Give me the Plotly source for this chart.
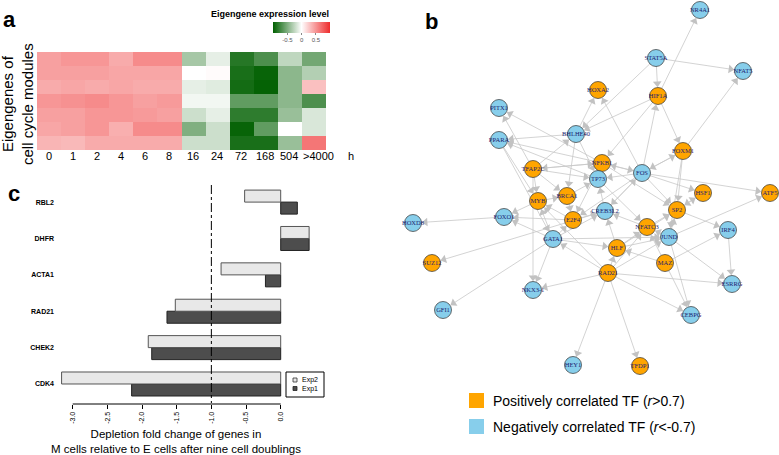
import math
import plotly.graph_objects as go

W, H = 779, 455


def fx(p):
    return p / W


def fy(p):
    return 1 - p / H


# ---------------- Panel a: eigengene heatmap ----------------
time_labels = ["0", "1", "2", "4", "6", "8", "16", "24", "72", "168", "504", ">4000"]
module_ids = ["M1", "M2", "M3", "M4", "M5", "M6", "M7"]
eigengene = [
    [0.45, 0.50, 0.50, 0.40, 0.55, 0.55, -0.35, -0.10, -0.85, -0.70, -0.25, -0.55],
    [0.45, 0.45, 0.45, 0.42, 0.42, 0.42, 0.00, 0.02, -0.90, -0.97, -0.45, -0.30],
    [0.40, 0.42, 0.40, 0.42, 0.40, 0.40, -0.10, -0.12, -0.92, -0.98, -0.45, 0.30],
    [0.50, 0.52, 0.55, 0.50, 0.45, 0.48, -0.05, -0.05, -0.62, -0.62, -0.45, -0.70],
    [0.45, 0.45, 0.50, 0.50, 0.48, 0.45, -0.20, -0.10, -0.82, -0.82, -0.40, -0.15],
    [0.42, 0.45, 0.50, 0.38, 0.55, 0.55, -0.50, -0.20, -0.97, -0.62, 0.00, -0.15],
    [0.35, 0.33, 0.40, 0.40, 0.40, 0.40, -0.20, -0.20, -0.90, -0.90, -0.40, 0.65],
]
cbar_ticks = [-0.5, 0, 0.5]

# ---------------- Panel c: depletion bars ----------------
genes = ["CDK4", "CHEK2", "RAD21", "ACTA1", "DHFR", "RBL2"]
exp1 = [-2.15, -1.86, -1.64, -0.22, 0.41, 0.24]
exp2 = [-3.16, -1.91, -1.52, -0.86, 0.41, -0.52]
fold_ticks = [-3.0, -2.5, -2.0, -1.5, -1.0, -0.5, 0.0]
threshold = -1.0

# ---------------- Panel b: TF network ----------------
tf_names = ["NR4A1", "STAT5A", "NFAT5", "HOXA2", "HIF1A", "PITX1", "PPARA", "BHLHE40",
            "FOXM1", "NFKB1", "TFAP2C", "FOS", "TP73", "MYB", "BRCA1", "HSF1", "ATF5",
            "SP2", "CREB3L2", "FOXO1", "HOXD8", "E2F4", "NFATC3", "JUND", "IRF4", "GATA1",
            "HLF", "MAZ", "SUZ12", "RAD21", "NKX3-1", "ESRRG", "GFI1", "CEBPG", "HEY1", "TFDP1"]
tf_x = [700, 656, 743, 598, 658, 499, 499, 576, 683, 602, 533, 642, 598, 538, 567, 703, 770,
        677, 605, 504, 413, 573, 647, 669, 728, 553, 617, 665, 432, 608, 533, 732, 443, 691, 573, 640]
tf_y = [10, 58, 71, 90, 96, 108, 140, 134, 151, 163, 169, 173, 179, 201, 196, 193, 193,
        210, 211, 217, 223, 220, 227, 237, 230, 239, 248, 263, 263, 273, 290, 284, 310, 315, 365, 366]
tf_positive = ["HOXA2", "HIF1A", "FOXM1", "NFKB1", "TFAP2C", "MYB", "BRCA1", "HSF1", "ATF5",
               "SP2", "E2F4", "NFATC3", "HLF", "MAZ", "SUZ12", "RAD21", "TFDP1"]
edges = [
    ("HIF1A", "NR4A1"), ("STAT5A", "NFAT5"), ("STAT5A", "HIF1A"), ("STAT5A", "BHLHE40"),
    ("FOXM1", "NFAT5"), ("HIF1A", "FOXM1"), ("HIF1A", "BHLHE40"), ("HIF1A", "NFKB1"),
    ("BHLHE40", "HOXA2"), ("FOS", "HOXA2"), ("FOS", "HIF1A"), ("NFKB1", "PITX1"),
    ("TFAP2C", "PITX1"), ("BHLHE40", "PPARA"), ("NFKB1", "PPARA"), ("TP73", "PPARA"),
    ("PPARA", "MYB"), ("TFAP2C", "BHLHE40"), ("TFAP2C", "NFKB1"), ("BHLHE40", "TP73"),
    ("BHLHE40", "BRCA1"), ("FOS", "NFKB1"), ("NFKB1", "FOS"), ("FOS", "FOXM1"),
    ("FOXM1", "FOS"), ("FOS", "HSF1"), ("FOS", "ATF5"), ("FOS", "SP2"), ("FOS", "CREB3L2"),
    ("FOS", "TP73"), ("FOS", "E2F4"), ("FOXM1", "SP2"), ("FOXM1", "JUND"), ("SP2", "HSF1"),
    ("JUND", "SP2"), ("NFATC3", "SP2"), ("SP2", "IRF4"), ("IRF4", "ESRRG"), ("MAZ", "IRF4"),
    ("RAD21", "ESRRG"), ("RAD21", "CEBPG"), ("RAD21", "NKX3-1"), ("RAD21", "HEY1"),
    ("RAD21", "TFDP1"), ("RAD21", "HLF"), ("GATA1", "GFI1"), ("CREB3L2", "SUZ12"),
    ("FOXO1", "HOXD8"), ("GATA1", "FOXO1"), ("E2F4", "FOXO1"), ("MYB", "FOXO1"),
    ("GATA1", "NKX3-1"), ("MAZ", "CEBPG"), ("JUND", "ESRRG"), ("HLF", "JUND"),
    ("HLF", "NFATC3"), ("MAZ", "HLF"), ("TFAP2C", "MYB"), ("TFAP2C", "BRCA1"),
    ("TFAP2C", "TP73"), ("MYB", "BRCA1"), ("BRCA1", "TP73"), ("BRCA1", "E2F4"),
    ("E2F4", "CREB3L2"), ("CREB3L2", "TP73"), ("GATA1", "MYB"), ("GATA1", "E2F4"),
    ("GATA1", "CREB3L2"), ("GATA1", "HLF"), ("GATA1", "JUND"), ("E2F4", "MYB"),
    ("HLF", "CREB3L2"), ("NFATC3", "CREB3L2"), ("JUND", "NFATC3"), ("MAZ", "NFATC3"),
    ("RAD21", "GATA1"), ("RAD21", "MYB"), ("RAD21", "NFATC3"), ("RAD21", "JUND"),
    ("JUND", "ATF5"), ("TP73", "NFATC3"), ("NFKB1", "SP2"), ("NFKB1", "E2F4"),
    ("JUND", "CEBPG"), ("TFAP2C", "NKX3-1"), ("PPARA", "GATA1"), ("HSF1", "SP2"),
    ("NFKB1", "TFAP2C"), ("TP73", "NFKB1"), ("CREB3L2", "FOS"), ("HLF", "SP2"),
]

fig = go.Figure()

# ---- heatmap
fig.add_trace(go.Heatmap(
    z=eigengene, x=time_labels, y=module_ids,
    colorscale=[[0, "#005f00"], [0.5, "#ffffff"], [1, "#ee2c2c"]],
    zmin=-1, zmax=1, hoverinfo="skip",
    xaxis="x", yaxis="y",
    colorbar=dict(orientation="h", x=fx(301.7), xanchor="center", y=fy(22), yanchor="top",
                  len=57, lenmode="pixels", thickness=11, thicknessmode="pixels",
                  outlinewidth=0, tickvals=cbar_ticks, ticktext=["-0.5", "0", "0.5"],
                  ticks="outside", ticklen=2, tickcolor="#888",
                  tickfont=dict(size=6, color="#555"), xpad=0, ypad=0),
))

# ---- bars
ypos = list(range(len(genes)))
fig.add_trace(go.Bar(y=ypos, x=exp1, orientation="h", offset=-0.33, width=0.33,
                     marker=dict(color="#4d4d4d", line=dict(color="#222222", width=1)),
                     xaxis="x3", yaxis="y3", name="Exp1", showlegend=False, hoverinfo="skip"))
fig.add_trace(go.Bar(y=ypos, x=exp2, orientation="h", offset=0, width=0.33,
                     marker=dict(color="#e8e8e8", line=dict(color="#555555", width=1)),
                     xaxis="x3", yaxis="y3", name="Exp2", showlegend=False, hoverinfo="skip"))

# ---- network
pos = {n: (x, y) for n, x, y in zip(tf_names, tf_x, tf_y)}
R = 8.8
AS = 7.5
ex, ey, hx, hy, hang = [], [], [], [], []
for s, t in edges:
    x0, y0 = pos[s]
    x1, y1 = pos[t]
    dx, dy = x1 - x0, y1 - y0
    L = math.hypot(dx, dy)
    ux, uy = dx / L, dy / L
    tipx, tipy = x1 - ux * R, y1 - uy * R
    cx, cy = tipx - ux * AS / 2, tipy - uy * AS / 2
    ex += [x0, cx, None]
    ey += [y0, cy, None]
    hx.append(cx)
    hy.append(cy)
    hang.append(math.degrees(math.atan2(ux, -uy)))

fig.add_trace(go.Scatter(x=ex, y=ey, mode="lines", line=dict(color="#c8c8c8", width=0.8),
                         xaxis="x2", yaxis="y2", showlegend=False, hoverinfo="skip"))
fig.add_trace(go.Scatter(x=hx, y=hy, mode="markers",
                         marker=dict(symbol="triangle-up", size=AS, angle=hang, color="#c2c2c2",
                                     line=dict(width=0)),
                         xaxis="x2", yaxis="y2", showlegend=False, hoverinfo="skip"))
node_colors = ["#FFA500" if n in tf_positive else "#87CEEB" for n in tf_names]
fig.add_trace(go.Scatter(x=tf_x, y=tf_y, mode="markers+text", text=tf_names,
                         textposition="middle center",
                         textfont=dict(family="Liberation Serif", size=6.5, color="#1c1c70"),
                         marker=dict(size=17, color=node_colors, line=dict(color="#333333", width=0.7)),
                         xaxis="x2", yaxis="y2", showlegend=False, hoverinfo="skip"))

hidden = dict(visible=False, showgrid=False, zeroline=False)

fig.update_layout(
    width=W, height=H, margin=dict(l=0, r=0, t=0, b=0),
    paper_bgcolor="white", plot_bgcolor="white",
    font=dict(family="Liberation Sans", color="black"),
    barmode="overlay",
    xaxis=dict(domain=[fx(37), fx(336)], anchor="y", type="category",
               categoryorder="array", categoryarray=time_labels,
               ticks="", showgrid=False, showticklabels=False, showline=False, zeroline=False),
    yaxis=dict(domain=[fy(150), fy(52)], anchor="x", type="category", autorange="reversed",
               showticklabels=False, ticks="", showgrid=False, zeroline=False),
    xaxis2=dict(domain=[fx(380), 1], anchor="y2", range=[380, 779], **hidden),
    yaxis2=dict(domain=[0, 1], anchor="x2", range=[455, 0], **hidden),
    xaxis3=dict(domain=[fx(55), fx(330)], anchor="y3", range=[-3.255, 0.711],
                tickvals=fold_ticks, ticktext=[f"{v:.1f}" for v in fold_ticks],
                tickangle=-90, ticks="outside", ticklen=4, tickcolor="black",
                tickfont=dict(size=7), showgrid=False, zeroline=False, showline=False),
    yaxis3=dict(domain=[fy(404), fy(185)], anchor="x3", range=[-0.55, 5.47],
                tickvals=ypos, ticktext=genes, ticks="",
                tickfont=dict(size=7, weight="bold"),
                showgrid=False, zeroline=False, showline=False),
)

shapes = [
    dict(type="line", xref="x3", yref="paper", x0=fold_ticks[0], x1=fold_ticks[-1],
         y0=fy(404), y1=fy(404), line=dict(color="black", width=1)),
    dict(type="line", xref="x3", yref="paper", x0=threshold, x1=threshold,
         y0=fy(185), y1=fy(403), line=dict(color="black", width=1, dash="dashdot")),
    dict(type="rect", xref="paper", yref="paper", x0=fx(286), x1=fx(324), y0=fy(397), y1=fy(372),
         line=dict(color="black", width=1), fillcolor="white"),
    dict(type="rect", xref="paper", yref="paper", x0=fx(293), x1=fx(297), y0=fy(382), y1=fy(378),
         line=dict(color="#333", width=0.8), fillcolor="#e8e8e8"),
    dict(type="rect", xref="paper", yref="paper", x0=fx(293), x1=fx(297), y0=fy(390.5), y1=fy(386.5),
         line=dict(color="#222", width=0.8), fillcolor="#4d4d4d"),
    dict(type="rect", xref="paper", yref="paper", x0=fx(469), x1=fx(484), y0=fy(408), y1=fy(393),
         line=dict(width=0), fillcolor="#FFA500"),
    dict(type="rect", xref="paper", yref="paper", x0=fx(469), x1=fx(484), y0=fy(434), y1=fy(419),
         line=dict(width=0), fillcolor="#87CEEB"),
]

ann = [
    dict(text="<b>a</b>", x=fx(1), y=fy(20), xanchor="left", yanchor="middle", font=dict(size=22)),
    dict(text="<b>b</b>", x=fx(423), y=fy(21), xanchor="left", yanchor="middle", font=dict(size=22)),
    dict(text="<b>c</b>", x=fx(6), y=fy(193), xanchor="left", yanchor="middle", font=dict(size=22)),
    dict(text="h", x=fx(350.5), y=fy(156), xanchor="center", yanchor="middle", font=dict(size=11)),
    dict(text="<b>Eigengene expression level</b>", x=fx(331), y=fy(14), xanchor="right",
         yanchor="middle", font=dict(size=9)),
    dict(text="Eigengenes of<br>cell cycle modules", x=fx(18), y=fy(104), textangle=-90,
         xanchor="center", yanchor="middle", font=dict(size=15)),
    dict(text="Depletion fold change of genes in<br>M cells relative to E cells after nine cell doublings",
         x=fx(176), y=fy(441.5), xanchor="center", yanchor="middle", font=dict(size=11.5)),
    dict(text="Exp2", x=fx(300), y=fy(380), xanchor="left", yanchor="middle", font=dict(size=7)),
    dict(text="Exp1", x=fx(300), y=fy(388.5), xanchor="left", yanchor="middle", font=dict(size=7)),
    dict(text="Positively correlated TF (<i>r</i>&gt;0.7)", x=fx(491), y=fy(401), xanchor="left",
         yanchor="middle", font=dict(size=14)),
    dict(text="Negatively correlated TF (<i>r</i>&lt;-0.7)", x=fx(491), y=fy(427), xanchor="left",
         yanchor="middle", font=dict(size=14)),
]
for a in ann:
    a.update(xref="paper", yref="paper", showarrow=False)

# time-point labels under the heatmap columns (placed through the heatmap's x axis)
for i, t in enumerate(time_labels):
    ann.append(dict(text=t, x=i, xref="x", y=fy(156), yref="paper", showarrow=False,
                    xanchor="center", yanchor="middle", font=dict(size=11),
                    xshift=5 if t.startswith(">") else 0))

fig.update_layout(shapes=shapes, annotations=ann)
fig.write_html("out.html", config={"displayModeBar": False},
               post_script="document.body.style.margin='0';")
